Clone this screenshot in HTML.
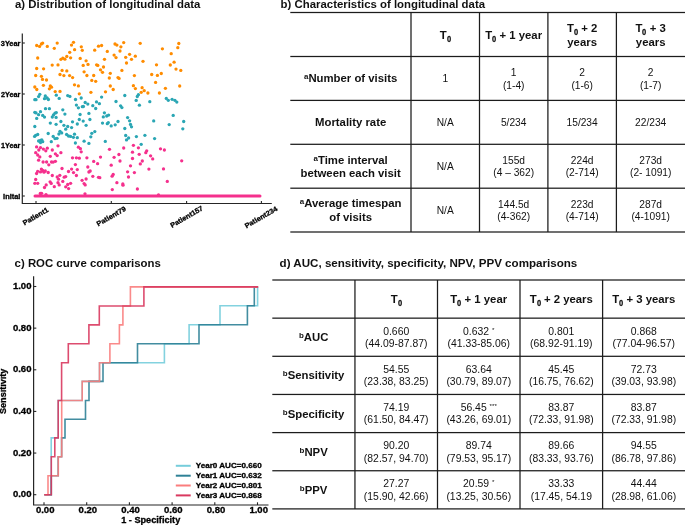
<!DOCTYPE html><html><head><meta charset="utf-8"><title>figure</title><style>
html,body{margin:0;padding:0;background:#fff;}
body{width:685px;height:525px;position:relative;overflow:hidden;font-family:"Liberation Sans",sans-serif;color:#111;}
.ttl{position:absolute;font-weight:bold;font-size:11.4px;line-height:12px;white-space:nowrap;color:#111;}
.ln{position:absolute;text-align:center;white-space:nowrap;line-height:14px;height:14px;}
.bh{font-weight:bold;font-size:11.35px;line-height:13.1px;}
.bh>span{position:relative;top:1.0px;}
.hd{line-height:13.8px;}
.bd>span{position:relative;top:1.7px;}
.dd>span{position:relative;top:1.0px;}
.bd{font-size:10px;line-height:12.8px;}
.dd{font-size:10.4px;line-height:12.3px;}
sub.s{font-size:0.78em;vertical-align:-0.3em;line-height:0;}
.z{display:inline-block;transform:scaleX(0.85);transform-origin:0 0;margin-right:-0.8px;-webkit-text-stroke:0.3px #111;}
sup.s{font-size:0.6em;vertical-align:0.45em;line-height:0;font-weight:normal;}
sup.a{font-size:0.7em;vertical-align:0.4em;line-height:0;}
svg text{font-family:"Liberation Sans",sans-serif;font-weight:bold;fill:#000;stroke:#000;stroke-width:0.3px;}
.wc{will-change:transform;}
</style></head><body>
<div class="wc" style="position:absolute;left:0;top:0;width:685px;height:525px;">
<div class="ttl" style="left:15px;top:-2px;">a) Distribution of longitudinal data</div>
<div class="ttl" style="left:280.6px;top:-2px;">b) Characteristics of longitudinal data</div>
<div class="ttl" style="left:14.6px;top:256.8px;">c) ROC curve comparisons</div>
<div class="ttl" style="left:279.6px;top:256.5px;font-size:11.6px;">d) AUC, sensitivity, specificity, NPV, PPV comparisons</div>
</div>
<svg class="wc" width="685" height="525" style="position:absolute;left:0;top:0">
<g fill="#ff8c00"><circle cx="36.7" cy="45.5" r="1.65"/><circle cx="39.6" cy="46.4" r="1.65"/><circle cx="41.4" cy="44.0" r="1.65"/><circle cx="42.7" cy="43.1" r="1.65"/><circle cx="47.3" cy="46.4" r="1.65"/><circle cx="54.3" cy="48.3" r="1.65"/><circle cx="57.2" cy="43.1" r="1.65"/><circle cx="73.5" cy="42.3" r="1.65"/><circle cx="71.5" cy="45.1" r="1.65"/><circle cx="74.6" cy="49.7" r="1.65"/><circle cx="81.3" cy="46.8" r="1.65"/><circle cx="82.3" cy="50.3" r="1.65"/><circle cx="69.7" cy="52.3" r="1.65"/><circle cx="37.7" cy="58.0" r="1.65"/><circle cx="60.9" cy="59.3" r="1.65"/><circle cx="62.8" cy="58.2" r="1.65"/><circle cx="64.9" cy="59.2" r="1.65"/><circle cx="66.8" cy="56.4" r="1.65"/><circle cx="70.6" cy="57.8" r="1.65"/><circle cx="80.2" cy="58.4" r="1.65"/><circle cx="86.1" cy="60.8" r="1.65"/><circle cx="88.0" cy="64.4" r="1.65"/><circle cx="83.2" cy="65.4" r="1.65"/><circle cx="52.2" cy="65.1" r="1.65"/><circle cx="58.0" cy="64.9" r="1.65"/><circle cx="36.7" cy="68.5" r="1.65"/><circle cx="43.6" cy="68.8" r="1.65"/><circle cx="62.1" cy="70.4" r="1.65"/><circle cx="66.8" cy="70.9" r="1.65"/><circle cx="84.1" cy="71.8" r="1.65"/><circle cx="98.5" cy="46.2" r="1.65"/><circle cx="101.6" cy="45.5" r="1.65"/><circle cx="94.7" cy="50.2" r="1.65"/><circle cx="107.3" cy="51.4" r="1.65"/><circle cx="115.0" cy="44.0" r="1.65"/><circle cx="116.9" cy="45.1" r="1.65"/><circle cx="123.7" cy="42.6" r="1.65"/><circle cx="120.9" cy="46.8" r="1.65"/><circle cx="120.0" cy="51.0" r="1.65"/><circle cx="140.2" cy="43.3" r="1.65"/><circle cx="114.1" cy="55.1" r="1.65"/><circle cx="116.0" cy="57.6" r="1.65"/><circle cx="129.6" cy="54.3" r="1.65"/><circle cx="125.7" cy="57.3" r="1.65"/><circle cx="135.3" cy="56.2" r="1.65"/><circle cx="131.5" cy="59.3" r="1.65"/><circle cx="143.0" cy="61.3" r="1.65"/><circle cx="126.5" cy="63.0" r="1.65"/><circle cx="104.5" cy="59.3" r="1.65"/><circle cx="96.6" cy="64.8" r="1.65"/><circle cx="97.8" cy="65.4" r="1.65"/><circle cx="103.5" cy="67.0" r="1.65"/><circle cx="100.5" cy="69.8" r="1.65"/><circle cx="102.5" cy="72.3" r="1.65"/><circle cx="110.3" cy="73.3" r="1.65"/><circle cx="121.9" cy="70.4" r="1.65"/><circle cx="178.8" cy="43.5" r="1.65"/><circle cx="177.8" cy="47.7" r="1.65"/><circle cx="162.4" cy="48.8" r="1.65"/><circle cx="171.2" cy="53.7" r="1.65"/><circle cx="174.1" cy="62.2" r="1.65"/><circle cx="170.3" cy="65.0" r="1.65"/><circle cx="156.5" cy="64.8" r="1.65"/><circle cx="176.0" cy="69.1" r="1.65"/><circle cx="180.8" cy="70.4" r="1.65"/><circle cx="161.3" cy="73.5" r="1.65"/><circle cx="35.7" cy="75.5" r="1.65"/><circle cx="41.4" cy="76.3" r="1.65"/><circle cx="42.5" cy="79.4" r="1.65"/><circle cx="46.5" cy="80.0" r="1.65"/><circle cx="60.0" cy="74.5" r="1.65"/><circle cx="63.9" cy="75.6" r="1.65"/><circle cx="69.6" cy="75.6" r="1.65"/><circle cx="72.6" cy="77.6" r="1.65"/><circle cx="86.9" cy="75.5" r="1.65"/><circle cx="43.4" cy="85.3" r="1.65"/><circle cx="34.8" cy="87.0" r="1.65"/><circle cx="36.8" cy="89.5" r="1.65"/><circle cx="50.3" cy="86.0" r="1.65"/><circle cx="51.5" cy="87.2" r="1.65"/><circle cx="49.4" cy="88.8" r="1.65"/><circle cx="74.5" cy="84.8" r="1.65"/><circle cx="78.4" cy="85.9" r="1.65"/><circle cx="55.2" cy="91.6" r="1.65"/><circle cx="60.0" cy="91.4" r="1.65"/><circle cx="79.3" cy="93.8" r="1.65"/><circle cx="93.7" cy="75.5" r="1.65"/><circle cx="91.8" cy="80.4" r="1.65"/><circle cx="95.7" cy="81.3" r="1.65"/><circle cx="109.3" cy="78.0" r="1.65"/><circle cx="118.0" cy="77.6" r="1.65"/><circle cx="119.1" cy="78.4" r="1.65"/><circle cx="134.4" cy="75.6" r="1.65"/><circle cx="110.3" cy="86.0" r="1.65"/><circle cx="113.2" cy="89.5" r="1.65"/><circle cx="105.5" cy="91.8" r="1.65"/><circle cx="90.9" cy="92.3" r="1.65"/><circle cx="133.4" cy="85.7" r="1.65"/><circle cx="135.4" cy="88.6" r="1.65"/><circle cx="142.1" cy="87.7" r="1.65"/><circle cx="144.2" cy="90.7" r="1.65"/><circle cx="141.2" cy="92.3" r="1.65"/><circle cx="151.7" cy="74.5" r="1.65"/><circle cx="157.4" cy="75.4" r="1.65"/><circle cx="155.6" cy="82.4" r="1.65"/><circle cx="165.4" cy="88.3" r="1.65"/><circle cx="179.7" cy="86.0" r="1.65"/><circle cx="147.9" cy="93.0" r="1.65"/><circle cx="159.4" cy="93.0" r="1.65"/></g>
<g fill="#2aa6b4"><circle cx="39.8" cy="94.3" r="1.65"/><circle cx="38.6" cy="96.6" r="1.65"/><circle cx="34.8" cy="99.7" r="1.65"/><circle cx="36.0" cy="99.7" r="1.65"/><circle cx="45.3" cy="96.0" r="1.65"/><circle cx="44.5" cy="98.7" r="1.65"/><circle cx="47.1" cy="98.0" r="1.65"/><circle cx="48.4" cy="99.5" r="1.65"/><circle cx="56.3" cy="95.2" r="1.65"/><circle cx="59.2" cy="98.4" r="1.65"/><circle cx="67.7" cy="95.6" r="1.65"/><circle cx="69.9" cy="96.4" r="1.65"/><circle cx="75.5" cy="99.5" r="1.65"/><circle cx="81.2" cy="98.0" r="1.65"/><circle cx="85.2" cy="102.5" r="1.65"/><circle cx="87.8" cy="104.1" r="1.65"/><circle cx="76.4" cy="105.1" r="1.65"/><circle cx="78.4" cy="107.8" r="1.65"/><circle cx="82.3" cy="106.7" r="1.65"/><circle cx="83.4" cy="106.5" r="1.65"/><circle cx="45.5" cy="108.7" r="1.65"/><circle cx="49.4" cy="108.7" r="1.65"/><circle cx="62.8" cy="109.8" r="1.65"/><circle cx="101.6" cy="97.1" r="1.65"/><circle cx="96.5" cy="101.9" r="1.65"/><circle cx="99.4" cy="103.7" r="1.65"/><circle cx="92.8" cy="105.7" r="1.65"/><circle cx="95.7" cy="108.5" r="1.65"/><circle cx="124.8" cy="95.5" r="1.65"/><circle cx="116.0" cy="101.5" r="1.65"/><circle cx="120.6" cy="105.8" r="1.65"/><circle cx="121.9" cy="107.6" r="1.65"/><circle cx="138.4" cy="94.7" r="1.65"/><circle cx="137.3" cy="96.5" r="1.65"/><circle cx="136.2" cy="100.4" r="1.65"/><circle cx="139.4" cy="105.2" r="1.65"/><circle cx="149.8" cy="101.7" r="1.65"/><circle cx="166.3" cy="98.4" r="1.65"/><circle cx="168.3" cy="100.3" r="1.65"/><circle cx="172.1" cy="99.3" r="1.65"/><circle cx="174.9" cy="100.3" r="1.65"/><circle cx="176.8" cy="102.1" r="1.65"/><circle cx="34.8" cy="112.3" r="1.65"/><circle cx="36.0" cy="112.9" r="1.65"/><circle cx="40.5" cy="111.7" r="1.65"/><circle cx="38.6" cy="114.7" r="1.65"/><circle cx="42.7" cy="115.4" r="1.65"/><circle cx="44.5" cy="117.1" r="1.65"/><circle cx="36.7" cy="118.4" r="1.65"/><circle cx="52.3" cy="117.0" r="1.65"/><circle cx="53.5" cy="114.9" r="1.65"/><circle cx="55.0" cy="113.2" r="1.65"/><circle cx="56.3" cy="112.6" r="1.65"/><circle cx="56.1" cy="117.4" r="1.65"/><circle cx="64.9" cy="114.1" r="1.65"/><circle cx="80.1" cy="114.5" r="1.65"/><circle cx="79.3" cy="119.5" r="1.65"/><circle cx="83.2" cy="121.1" r="1.65"/><circle cx="50.3" cy="123.1" r="1.65"/><circle cx="56.1" cy="124.3" r="1.65"/><circle cx="60.9" cy="121.5" r="1.65"/><circle cx="72.5" cy="121.8" r="1.65"/><circle cx="77.3" cy="124.0" r="1.65"/><circle cx="86.1" cy="125.3" r="1.65"/><circle cx="34.8" cy="126.5" r="1.65"/><circle cx="63.9" cy="125.3" r="1.65"/><circle cx="67.7" cy="126.5" r="1.65"/><circle cx="71.6" cy="127.6" r="1.65"/><circle cx="65.7" cy="129.2" r="1.65"/><circle cx="60.0" cy="131.3" r="1.65"/><circle cx="61.7" cy="132.9" r="1.65"/><circle cx="58.9" cy="134.0" r="1.65"/><circle cx="48.2" cy="133.5" r="1.65"/><circle cx="37.7" cy="134.5" r="1.65"/><circle cx="35.7" cy="135.3" r="1.65"/><circle cx="34.6" cy="136.4" r="1.65"/><circle cx="53.2" cy="136.4" r="1.65"/><circle cx="55.0" cy="138.6" r="1.65"/><circle cx="57.0" cy="138.3" r="1.65"/><circle cx="66.6" cy="134.5" r="1.65"/><circle cx="68.5" cy="136.0" r="1.65"/><circle cx="70.6" cy="136.4" r="1.65"/><circle cx="73.4" cy="137.3" r="1.65"/><circle cx="74.5" cy="134.2" r="1.65"/><circle cx="77.3" cy="137.7" r="1.65"/><circle cx="38.6" cy="141.0" r="1.65"/><circle cx="40.5" cy="140.3" r="1.65"/><circle cx="41.8" cy="139.9" r="1.65"/><circle cx="42.7" cy="141.7" r="1.65"/><circle cx="40.5" cy="142.5" r="1.65"/><circle cx="51.3" cy="141.7" r="1.65"/><circle cx="75.4" cy="143.0" r="1.65"/><circle cx="84.1" cy="141.2" r="1.65"/><circle cx="88.9" cy="113.4" r="1.65"/><circle cx="89.9" cy="119.5" r="1.65"/><circle cx="104.4" cy="112.8" r="1.65"/><circle cx="103.3" cy="116.9" r="1.65"/><circle cx="106.7" cy="116.0" r="1.65"/><circle cx="108.6" cy="115.1" r="1.65"/><circle cx="102.5" cy="123.1" r="1.65"/><circle cx="107.3" cy="123.7" r="1.65"/><circle cx="108.3" cy="122.6" r="1.65"/><circle cx="111.2" cy="125.9" r="1.65"/><circle cx="115.2" cy="124.8" r="1.65"/><circle cx="118.0" cy="121.5" r="1.65"/><circle cx="127.6" cy="117.6" r="1.65"/><circle cx="129.6" cy="120.8" r="1.65"/><circle cx="130.5" cy="124.4" r="1.65"/><circle cx="131.5" cy="126.8" r="1.65"/><circle cx="124.8" cy="128.5" r="1.65"/><circle cx="94.8" cy="131.6" r="1.65"/><circle cx="91.8" cy="133.3" r="1.65"/><circle cx="90.8" cy="136.8" r="1.65"/><circle cx="88.9" cy="143.4" r="1.65"/><circle cx="105.3" cy="141.4" r="1.65"/><circle cx="125.7" cy="135.5" r="1.65"/><circle cx="128.6" cy="138.0" r="1.65"/><circle cx="126.5" cy="139.9" r="1.65"/><circle cx="136.4" cy="136.6" r="1.65"/><circle cx="144.9" cy="135.3" r="1.65"/><circle cx="141.2" cy="144.3" r="1.65"/><circle cx="173.2" cy="115.4" r="1.65"/><circle cx="153.7" cy="120.9" r="1.65"/><circle cx="169.2" cy="124.6" r="1.65"/><circle cx="183.7" cy="121.5" r="1.65"/><circle cx="182.8" cy="128.8" r="1.65"/><circle cx="154.6" cy="138.6" r="1.65"/></g>
<g fill="#f5308d"><circle cx="58.0" cy="145.8" r="1.65"/><circle cx="36.6" cy="146.9" r="1.65"/><circle cx="40.5" cy="147.6" r="1.65"/><circle cx="43.4" cy="149.1" r="1.65"/><circle cx="47.3" cy="148.2" r="1.65"/><circle cx="52.3" cy="150.0" r="1.65"/><circle cx="78.4" cy="147.2" r="1.65"/><circle cx="80.4" cy="148.7" r="1.65"/><circle cx="38.8" cy="150.0" r="1.65"/><circle cx="133.4" cy="145.3" r="1.65"/><circle cx="123.7" cy="148.0" r="1.65"/><circle cx="138.4" cy="147.8" r="1.65"/><circle cx="109.5" cy="149.3" r="1.65"/><circle cx="160.5" cy="148.8" r="1.65"/><circle cx="164.4" cy="150.0" r="1.65"/><circle cx="45.8" cy="150.8" r="1.65"/><circle cx="81.2" cy="151.8" r="1.65"/><circle cx="35.7" cy="152.7" r="1.65"/><circle cx="37.7" cy="155.0" r="1.65"/><circle cx="39.8" cy="156.9" r="1.65"/><circle cx="38.6" cy="160.2" r="1.65"/><circle cx="50.3" cy="156.3" r="1.65"/><circle cx="55.4" cy="153.8" r="1.65"/><circle cx="57.2" cy="155.6" r="1.65"/><circle cx="60.9" cy="152.7" r="1.65"/><circle cx="72.5" cy="157.8" r="1.65"/><circle cx="76.4" cy="157.8" r="1.65"/><circle cx="79.3" cy="158.2" r="1.65"/><circle cx="86.9" cy="157.8" r="1.65"/><circle cx="43.1" cy="162.0" r="1.65"/><circle cx="46.6" cy="162.0" r="1.65"/><circle cx="48.8" cy="164.8" r="1.65"/><circle cx="51.5" cy="162.0" r="1.65"/><circle cx="53.2" cy="162.1" r="1.65"/><circle cx="55.4" cy="161.3" r="1.65"/><circle cx="75.4" cy="164.6" r="1.65"/><circle cx="87.8" cy="167.0" r="1.65"/><circle cx="62.0" cy="168.5" r="1.65"/><circle cx="71.6" cy="169.1" r="1.65"/><circle cx="77.3" cy="169.6" r="1.65"/><circle cx="68.5" cy="171.5" r="1.65"/><circle cx="73.5" cy="172.6" r="1.65"/><circle cx="76.4" cy="175.5" r="1.65"/><circle cx="88.9" cy="172.0" r="1.65"/><circle cx="37.7" cy="171.3" r="1.65"/><circle cx="36.6" cy="173.5" r="1.65"/><circle cx="41.4" cy="169.1" r="1.65"/><circle cx="42.7" cy="170.5" r="1.65"/><circle cx="44.0" cy="172.2" r="1.65"/><circle cx="45.3" cy="170.9" r="1.65"/><circle cx="40.5" cy="171.9" r="1.65"/><circle cx="48.2" cy="172.5" r="1.65"/><circle cx="52.3" cy="175.5" r="1.65"/><circle cx="57.2" cy="177.0" r="1.65"/><circle cx="59.8" cy="175.3" r="1.65"/><circle cx="58.5" cy="179.2" r="1.65"/><circle cx="64.2" cy="177.2" r="1.65"/><circle cx="65.7" cy="176.6" r="1.65"/><circle cx="62.8" cy="181.4" r="1.65"/><circle cx="35.7" cy="179.5" r="1.65"/><circle cx="34.8" cy="183.3" r="1.65"/><circle cx="37.7" cy="183.3" r="1.65"/><circle cx="50.1" cy="181.8" r="1.65"/><circle cx="51.2" cy="183.4" r="1.65"/><circle cx="46.2" cy="184.9" r="1.65"/><circle cx="44.5" cy="187.5" r="1.65"/><circle cx="54.3" cy="186.7" r="1.65"/><circle cx="58.0" cy="182.7" r="1.65"/><circle cx="59.2" cy="184.9" r="1.65"/><circle cx="67.7" cy="184.5" r="1.65"/><circle cx="70.6" cy="183.3" r="1.65"/><circle cx="65.7" cy="186.8" r="1.65"/><circle cx="68.6" cy="188.6" r="1.65"/><circle cx="82.1" cy="180.3" r="1.65"/><circle cx="86.1" cy="179.0" r="1.65"/><circle cx="84.1" cy="183.6" r="1.65"/><circle cx="85.2" cy="184.9" r="1.65"/><circle cx="132.5" cy="152.2" r="1.65"/><circle cx="139.2" cy="154.3" r="1.65"/><circle cx="145.8" cy="152.7" r="1.65"/><circle cx="146.7" cy="150.8" r="1.65"/><circle cx="100.5" cy="157.1" r="1.65"/><circle cx="114.1" cy="157.3" r="1.65"/><circle cx="118.9" cy="154.5" r="1.65"/><circle cx="120.0" cy="161.0" r="1.65"/><circle cx="132.5" cy="158.5" r="1.65"/><circle cx="142.3" cy="161.0" r="1.65"/><circle cx="140.3" cy="163.9" r="1.65"/><circle cx="93.7" cy="161.4" r="1.65"/><circle cx="97.6" cy="163.7" r="1.65"/><circle cx="90.2" cy="171.0" r="1.65"/><circle cx="111.2" cy="165.2" r="1.65"/><circle cx="130.5" cy="165.8" r="1.65"/><circle cx="127.6" cy="171.8" r="1.65"/><circle cx="134.4" cy="172.6" r="1.65"/><circle cx="128.5" cy="177.0" r="1.65"/><circle cx="113.2" cy="174.4" r="1.65"/><circle cx="112.1" cy="176.2" r="1.65"/><circle cx="92.8" cy="176.3" r="1.65"/><circle cx="98.5" cy="177.3" r="1.65"/><circle cx="99.8" cy="177.7" r="1.65"/><circle cx="116.9" cy="182.7" r="1.65"/><circle cx="122.8" cy="184.0" r="1.65"/><circle cx="123.0" cy="185.2" r="1.65"/><circle cx="112.3" cy="189.6" r="1.65"/><circle cx="137.4" cy="189.0" r="1.65"/><circle cx="150.6" cy="155.8" r="1.65"/><circle cx="152.7" cy="158.9" r="1.65"/><circle cx="181.7" cy="160.8" r="1.65"/><circle cx="148.9" cy="169.1" r="1.65"/><circle cx="163.5" cy="168.9" r="1.65"/><circle cx="167.3" cy="181.4" r="1.65"/><circle cx="40.3" cy="193.5" r="1.65"/><circle cx="41.6" cy="193.3" r="1.65"/><circle cx="46.0" cy="194.6" r="1.65"/><circle cx="85.0" cy="193.8" r="1.65"/><circle cx="158.5" cy="194.9" r="1.65"/></g>
<line x1="35" y1="195.9" x2="260.0" y2="195.9" stroke="#f5308d" stroke-width="3.0" stroke-linecap="round"/>
<path d="M22.3 33.4V203.5H271.8" fill="none" stroke="#262626" stroke-width="1.2"/>
<line x1="22.3" y1="43" x2="24.8" y2="43" stroke="#262626" stroke-width="1.1"/>
<line x1="22.3" y1="94" x2="24.8" y2="94" stroke="#262626" stroke-width="1.1"/>
<line x1="22.3" y1="145" x2="24.8" y2="145" stroke="#262626" stroke-width="1.1"/>
<line x1="22.3" y1="196" x2="24.8" y2="196" stroke="#262626" stroke-width="1.1"/>
<line x1="36.0" y1="203.5" x2="36.0" y2="200.9" stroke="#262626" stroke-width="1.1"/>
<line x1="111.3" y1="203.5" x2="111.3" y2="200.9" stroke="#262626" stroke-width="1.1"/>
<line x1="186.6" y1="203.5" x2="186.6" y2="200.9" stroke="#262626" stroke-width="1.1"/>
<line x1="261.4" y1="203.5" x2="261.4" y2="200.9" stroke="#262626" stroke-width="1.1"/>
<text x="20.4" y="45.8" font-size="7.0" text-anchor="end" textLength="19.6" lengthAdjust="spacingAndGlyphs" >3Year</text>
<text x="20.4" y="96.8" font-size="7.0" text-anchor="end" textLength="19.3" lengthAdjust="spacingAndGlyphs" >2Year</text>
<text x="20.4" y="147.8" font-size="7.0" text-anchor="end" textLength="19.3" lengthAdjust="spacingAndGlyphs" >1Year</text>
<text x="20.4" y="198.8" font-size="7.0" text-anchor="end" textLength="17.3" lengthAdjust="spacingAndGlyphs" >Inital</text>
<text transform="translate(35.6,216.3) rotate(-30)" x="0" y="2.4" font-size="7.0" text-anchor="middle" textLength="28.3" lengthAdjust="spacingAndGlyphs">Patient1</text>
<text transform="translate(111.2,216.3) rotate(-30)" x="0" y="2.4" font-size="7.0" text-anchor="middle" textLength="32.5" lengthAdjust="spacingAndGlyphs">Patient79</text>
<text transform="translate(186.6,216.8) rotate(-30)" x="0" y="2.4" font-size="7.0" text-anchor="middle" textLength="36.5" lengthAdjust="spacingAndGlyphs">Patient157</text>
<text transform="translate(261.0,217.2) rotate(-30)" x="0" y="2.4" font-size="7.0" text-anchor="middle" textLength="36.5" lengthAdjust="spacingAndGlyphs">Patient234</text>
<path d="M33.6 276.2V505H268.5" fill="none" stroke="#262626" stroke-width="1.2"/>
<line x1="33.6" y1="494.70" x2="36.3" y2="494.70" stroke="#262626" stroke-width="1.1"/>
<text x="31.5" y="497.35" font-size="8.7" text-anchor="end" textLength="18.6" lengthAdjust="spacingAndGlyphs" >0.00</text>
<line x1="44.00" y1="505" x2="44.00" y2="502.3" stroke="#262626" stroke-width="1.1"/>
<text x="45.20" y="512.8" font-size="8.7" text-anchor="middle" textLength="18.6" lengthAdjust="spacingAndGlyphs" >0.00</text>
<line x1="33.6" y1="453.06" x2="36.3" y2="453.06" stroke="#262626" stroke-width="1.1"/>
<text x="31.5" y="455.71" font-size="8.7" text-anchor="end" textLength="18.6" lengthAdjust="spacingAndGlyphs" >0.20</text>
<line x1="86.70" y1="505" x2="86.70" y2="502.3" stroke="#262626" stroke-width="1.1"/>
<text x="87.90" y="512.8" font-size="8.7" text-anchor="middle" textLength="18.6" lengthAdjust="spacingAndGlyphs" >0.20</text>
<line x1="33.6" y1="411.42" x2="36.3" y2="411.42" stroke="#262626" stroke-width="1.1"/>
<text x="31.5" y="414.07" font-size="8.7" text-anchor="end" textLength="18.6" lengthAdjust="spacingAndGlyphs" >0.40</text>
<line x1="129.40" y1="505" x2="129.40" y2="502.3" stroke="#262626" stroke-width="1.1"/>
<text x="130.60" y="512.8" font-size="8.7" text-anchor="middle" textLength="18.6" lengthAdjust="spacingAndGlyphs" >0.40</text>
<line x1="33.6" y1="369.78" x2="36.3" y2="369.78" stroke="#262626" stroke-width="1.1"/>
<text x="31.5" y="372.43" font-size="8.7" text-anchor="end" textLength="18.6" lengthAdjust="spacingAndGlyphs" >0.60</text>
<line x1="172.10" y1="505" x2="172.10" y2="502.3" stroke="#262626" stroke-width="1.1"/>
<text x="173.30" y="512.8" font-size="8.7" text-anchor="middle" textLength="18.6" lengthAdjust="spacingAndGlyphs" >0.60</text>
<line x1="33.6" y1="328.14" x2="36.3" y2="328.14" stroke="#262626" stroke-width="1.1"/>
<text x="31.5" y="330.79" font-size="8.7" text-anchor="end" textLength="18.6" lengthAdjust="spacingAndGlyphs" >0.80</text>
<line x1="214.80" y1="505" x2="214.80" y2="502.3" stroke="#262626" stroke-width="1.1"/>
<text x="216.00" y="512.8" font-size="8.7" text-anchor="middle" textLength="18.6" lengthAdjust="spacingAndGlyphs" >0.80</text>
<line x1="33.6" y1="286.50" x2="36.3" y2="286.50" stroke="#262626" stroke-width="1.1"/>
<text x="31.5" y="289.15" font-size="8.7" text-anchor="end" textLength="18.6" lengthAdjust="spacingAndGlyphs" >1.00</text>
<line x1="257.50" y1="505" x2="257.50" y2="502.3" stroke="#262626" stroke-width="1.1"/>
<text x="258.70" y="512.8" font-size="8.7" text-anchor="middle" textLength="18.6" lengthAdjust="spacingAndGlyphs" >1.00</text>
<text x="150.7" y="522.7" font-size="8.5" text-anchor="middle" textLength="59.1" lengthAdjust="spacingAndGlyphs" >1 - Specificity</text>
<text transform="translate(6.0,391.3) rotate(-90)" x="0" y="0" font-size="8.5" text-anchor="middle" textLength="45.4" lengthAdjust="spacingAndGlyphs">Sensitivity</text>
<path d="M44.3,494.7 L51.2,494.7 L51.2,437.9 L58.2,437.9 L58.2,400.5 L82.2,400.5 L82.2,381.4 L99.5,381.4 L99.5,362.8 L164.4,362.8 L164.4,343.7 L189.1,343.7 L189.1,324.7 L220,324.7 L220,305.8 L257.6,305.8 L257.6,286.9" fill="none" stroke="#76cddb" stroke-width="1.6" stroke-opacity="0.9"/>
<path d="M44.3,494.7 L51.3,494.7 L51.3,475.7 L58.2,475.7 L58.2,456.8 L61.6,456.8 L61.6,437.9 L65.0,437.9 L65.0,419.2 L85.5,419.2 L85.5,400.5 L89.0,400.5 L89.0,381.4 L103.0,381.4 L103.0,362.8 L137.5,362.8 L137.5,343.7 L199.0,343.7 L199.0,324.7 L247.4,324.7 L247.4,305.8 L254.3,305.8 L254.3,286.9 L258,286.9" fill="none" stroke="#2e8196" stroke-width="1.6" stroke-opacity="0.9"/>
<path d="M44.3,494.7 L48.0,494.7 L48.0,475.7 L58.3,475.7 L58.3,456.8 L61.7,456.8 L61.7,400.5 L82.2,400.5 L82.2,381.4 L99.5,381.4 L99.5,362.8 L109.9,362.8 L109.9,343.7 L119.4,343.7 L119.4,324.9 L122.9,324.9 L122.9,306.0 L130.4,306.0 L130.4,286.9 L258,286.9" fill="none" stroke="#fa7d7d" stroke-width="1.6" stroke-opacity="0.9"/>
<path d="M44.3,494.7 L51.3,494.7 L51.3,456.8 L54.8,456.8 L54.8,437.9 L58.2,437.9 L58.2,400.5 L61.6,400.5 L61.6,362.8 L68.3,362.8 L68.3,343.7 L88.9,343.7 L88.9,324.9 L99.3,324.9 L99.3,306.0 L143.9,306.0 L143.9,286.9 L258.3,286.9" fill="none" stroke="#d9395f" stroke-width="1.6" stroke-opacity="0.9"/>
<line x1="175.8" y1="465.8" x2="190.7" y2="465.8" stroke="#76cddb" stroke-width="2"/>
<text x="195.8" y="468.0" font-size="7.2" text-anchor="start" textLength="65.9" lengthAdjust="spacingAndGlyphs" >Year0 AUC=0.660</text>
<line x1="175.8" y1="475.7" x2="190.7" y2="475.7" stroke="#2e8196" stroke-width="2"/>
<text x="195.8" y="477.9" font-size="7.2" text-anchor="start" textLength="65.9" lengthAdjust="spacingAndGlyphs" >Year1 AUC=0.632</text>
<line x1="175.8" y1="485.5" x2="190.7" y2="485.5" stroke="#fa7d7d" stroke-width="2"/>
<text x="195.8" y="487.7" font-size="7.2" text-anchor="start" textLength="65.9" lengthAdjust="spacingAndGlyphs" >Year2 AUC=0.801</text>
<line x1="175.8" y1="495.4" x2="190.7" y2="495.4" stroke="#d9395f" stroke-width="2"/>
<text x="195.8" y="497.6" font-size="7.2" text-anchor="start" textLength="65.9" lengthAdjust="spacingAndGlyphs" >Year3 AUC=0.868</text>
<rect x="290.3" y="11.875" width="394.700" height="1.25" fill="#1c1c1c"/>
<rect x="290.3" y="55.875" width="394.700" height="1.25" fill="#1c1c1c"/>
<rect x="290.3" y="99.775" width="394.700" height="1.25" fill="#1c1c1c"/>
<rect x="290.3" y="143.675" width="394.700" height="1.25" fill="#1c1c1c"/>
<rect x="290.3" y="187.575" width="394.700" height="1.25" fill="#1c1c1c"/>
<rect x="290.3" y="231.375" width="394.700" height="1.25" fill="#1c1c1c"/>
<rect x="410.375" y="12.5" width="1.25" height="219.500" fill="#1c1c1c"/>
<rect x="478.875" y="12.5" width="1.25" height="219.500" fill="#1c1c1c"/>
<rect x="547.275" y="12.5" width="1.25" height="219.500" fill="#1c1c1c"/>
<rect x="615.775" y="12.5" width="1.25" height="219.500" fill="#1c1c1c"/>
<rect x="272.3" y="279.375" width="412.700" height="1.25" fill="#1c1c1c"/>
<rect x="272.3" y="317.525" width="412.700" height="1.25" fill="#1c1c1c"/>
<rect x="272.3" y="355.675" width="412.700" height="1.25" fill="#1c1c1c"/>
<rect x="272.3" y="393.825" width="412.700" height="1.25" fill="#1c1c1c"/>
<rect x="272.3" y="431.975" width="412.700" height="1.25" fill="#1c1c1c"/>
<rect x="272.3" y="470.125" width="412.700" height="1.25" fill="#1c1c1c"/>
<rect x="272.3" y="508.275" width="412.700" height="1.25" fill="#1c1c1c"/>
<rect x="354.325" y="280.0" width="1.25" height="228.900" fill="#1c1c1c"/>
<rect x="436.875" y="280.0" width="1.25" height="228.900" fill="#1c1c1c"/>
<rect x="519.375" y="280.0" width="1.25" height="228.900" fill="#1c1c1c"/>
<rect x="601.975" y="280.0" width="1.25" height="228.900" fill="#1c1c1c"/>
</svg>
<div class="wc" style="position:absolute;left:0;top:0;width:685px;height:525px;">
<div class="ln" style="left:290.30px;width:120.70px;top:28px;font-size:11.35px;font-weight:bold;"></div>
<div class="ln" style="left:411.00px;width:68.50px;top:28px;font-size:11.35px;font-weight:bold;">T<sub class="s"><span class="z">0</span></sub></div>
<div class="ln" style="left:479.50px;width:68.40px;top:28px;font-size:11.35px;font-weight:bold;">T<sub class="s"><span class="z">0</span></sub> + 1 year</div>
<div class="ln" style="left:547.90px;width:68.50px;top:21px;font-size:11.35px;font-weight:bold;">T<sub class="s"><span class="z">0</span></sub> + 2</div>
<div class="ln" style="left:547.90px;width:68.50px;top:35px;font-size:11.35px;font-weight:bold;">years</div>
<div class="ln" style="left:616.40px;width:68.60px;top:21px;font-size:11.35px;font-weight:bold;">T<sub class="s"><span class="z">0</span></sub> + 3</div>
<div class="ln" style="left:616.40px;width:68.60px;top:35px;font-size:11.35px;font-weight:bold;">years</div>
<div class="ln" style="left:290.30px;width:120.70px;top:71px;font-size:11.35px;font-weight:bold;"><sup class="a">a</sup>Number of visits</div>
<div class="ln" style="left:411.00px;width:68.50px;top:72px;font-size:10.2px;font-weight:normal;">1</div>
<div class="ln" style="left:479.50px;width:68.40px;top:66px;font-size:10.2px;font-weight:normal;">1</div>
<div class="ln" style="left:479.50px;width:68.40px;top:79px;font-size:10.2px;font-weight:normal;">(1-4)</div>
<div class="ln" style="left:547.90px;width:68.50px;top:66px;font-size:10.2px;font-weight:normal;">2</div>
<div class="ln" style="left:547.90px;width:68.50px;top:79px;font-size:10.2px;font-weight:normal;">(1-6)</div>
<div class="ln" style="left:616.40px;width:68.60px;top:66px;font-size:10.2px;font-weight:normal;">2</div>
<div class="ln" style="left:616.40px;width:68.60px;top:79px;font-size:10.2px;font-weight:normal;">(1-7)</div>
<div class="ln" style="left:290.30px;width:120.70px;top:115px;font-size:11.35px;font-weight:bold;">Mortality rate</div>
<div class="ln" style="left:411.00px;width:68.50px;top:116px;font-size:10.2px;font-weight:normal;">N/A</div>
<div class="ln" style="left:479.50px;width:68.40px;top:116px;font-size:10.2px;font-weight:normal;">5/234</div>
<div class="ln" style="left:547.90px;width:68.50px;top:116px;font-size:10.2px;font-weight:normal;">15/234</div>
<div class="ln" style="left:616.40px;width:68.60px;top:116px;font-size:10.2px;font-weight:normal;">22/234</div>
<div class="ln" style="left:290.30px;width:120.70px;top:153px;font-size:11.35px;font-weight:bold;"><sup class="a">a</sup>Time interval</div>
<div class="ln" style="left:290.30px;width:120.70px;top:166px;font-size:11.35px;font-weight:bold;">between each visit</div>
<div class="ln" style="left:411.00px;width:68.50px;top:160px;font-size:10.2px;font-weight:normal;">N/A</div>
<div class="ln" style="left:479.50px;width:68.40px;top:154px;font-size:10.2px;font-weight:normal;">155d</div>
<div class="ln" style="left:479.50px;width:68.40px;top:166px;font-size:10.2px;font-weight:normal;">(4 – 362)</div>
<div class="ln" style="left:547.90px;width:68.50px;top:154px;font-size:10.2px;font-weight:normal;">224d</div>
<div class="ln" style="left:547.90px;width:68.50px;top:166px;font-size:10.2px;font-weight:normal;">(2-714)</div>
<div class="ln" style="left:616.40px;width:68.60px;top:154px;font-size:10.2px;font-weight:normal;">273d</div>
<div class="ln" style="left:616.40px;width:68.60px;top:166px;font-size:10.2px;font-weight:normal;">(2- 1091)</div>
<div class="ln" style="left:290.30px;width:120.70px;top:196px;font-size:11.35px;font-weight:bold;"><sup class="a">a</sup>Average timespan</div>
<div class="ln" style="left:290.30px;width:120.70px;top:210px;font-size:11.35px;font-weight:bold;">of visits</div>
<div class="ln" style="left:411.00px;width:68.50px;top:204px;font-size:10.2px;font-weight:normal;">N/A</div>
<div class="ln" style="left:479.50px;width:68.40px;top:198px;font-size:10.2px;font-weight:normal;">144.5d</div>
<div class="ln" style="left:479.50px;width:68.40px;top:210px;font-size:10.2px;font-weight:normal;">(4-362)</div>
<div class="ln" style="left:547.90px;width:68.50px;top:198px;font-size:10.2px;font-weight:normal;">223d</div>
<div class="ln" style="left:547.90px;width:68.50px;top:210px;font-size:10.2px;font-weight:normal;">(4-714)</div>
<div class="ln" style="left:616.40px;width:68.60px;top:198px;font-size:10.2px;font-weight:normal;">287d</div>
<div class="ln" style="left:616.40px;width:68.60px;top:210px;font-size:10.2px;font-weight:normal;">(4-1091)</div>
<div class="ln" style="left:272.30px;width:82.65px;top:292px;font-size:11.35px;font-weight:bold;"></div>
<div class="ln" style="left:354.95px;width:82.55px;top:292px;font-size:11.35px;font-weight:bold;">T<sub class="s"><span class="z">0</span></sub></div>
<div class="ln" style="left:437.50px;width:82.50px;top:292px;font-size:11.35px;font-weight:bold;">T<sub class="s"><span class="z">0</span></sub> + 1 year</div>
<div class="ln" style="left:520.00px;width:82.60px;top:292px;font-size:11.35px;font-weight:bold;">T<sub class="s"><span class="z">0</span></sub> + 2 years</div>
<div class="ln" style="left:602.60px;width:82.40px;top:292px;font-size:11.35px;font-weight:bold;">T<sub class="s"><span class="z">0</span></sub> + 3 years</div>
<div class="ln" style="left:272.30px;width:82.65px;top:330px;font-size:11.35px;font-weight:bold;"><sup class="a">b</sup>AUC</div>
<div class="ln" style="left:354.95px;width:82.55px;top:325px;font-size:10.4px;font-weight:normal;">0.660</div>
<div class="ln" style="left:354.95px;width:82.55px;top:337px;font-size:10.4px;font-weight:normal;">(44.09-87.87)</div>
<div class="ln" style="left:437.50px;width:82.50px;top:325px;font-size:10.4px;font-weight:normal;">0.632 <sup class="s">*</sup></div>
<div class="ln" style="left:437.50px;width:82.50px;top:337px;font-size:10.4px;font-weight:normal;">(41.33-85.06)</div>
<div class="ln" style="left:520.00px;width:82.60px;top:325px;font-size:10.4px;font-weight:normal;">0.801</div>
<div class="ln" style="left:520.00px;width:82.60px;top:337px;font-size:10.4px;font-weight:normal;">(68.92-91.19)</div>
<div class="ln" style="left:602.60px;width:82.40px;top:325px;font-size:10.4px;font-weight:normal;">0.868</div>
<div class="ln" style="left:602.60px;width:82.40px;top:337px;font-size:10.4px;font-weight:normal;">(77.04-96.57)</div>
<div class="ln" style="left:272.30px;width:82.65px;top:368px;font-size:11.35px;font-weight:bold;"><sup class="a">b</sup>Sensitivity</div>
<div class="ln" style="left:354.95px;width:82.55px;top:363px;font-size:10.4px;font-weight:normal;">54.55</div>
<div class="ln" style="left:354.95px;width:82.55px;top:375px;font-size:10.4px;font-weight:normal;">(23.38, 83.25)</div>
<div class="ln" style="left:437.50px;width:82.50px;top:363px;font-size:10.4px;font-weight:normal;">63.64</div>
<div class="ln" style="left:437.50px;width:82.50px;top:375px;font-size:10.4px;font-weight:normal;">(30.79, 89.07)</div>
<div class="ln" style="left:520.00px;width:82.60px;top:363px;font-size:10.4px;font-weight:normal;">45.45</div>
<div class="ln" style="left:520.00px;width:82.60px;top:375px;font-size:10.4px;font-weight:normal;">(16.75, 76.62)</div>
<div class="ln" style="left:602.60px;width:82.40px;top:363px;font-size:10.4px;font-weight:normal;">72.73</div>
<div class="ln" style="left:602.60px;width:82.40px;top:375px;font-size:10.4px;font-weight:normal;">(39.03, 93.98)</div>
<div class="ln" style="left:272.30px;width:82.65px;top:407px;font-size:11.35px;font-weight:bold;"><sup class="a">b</sup>Specificity</div>
<div class="ln" style="left:354.95px;width:82.55px;top:401px;font-size:10.4px;font-weight:normal;">74.19</div>
<div class="ln" style="left:354.95px;width:82.55px;top:413px;font-size:10.4px;font-weight:normal;">(61.50, 84.47)</div>
<div class="ln" style="left:437.50px;width:82.50px;top:401px;font-size:10.4px;font-weight:normal;">56.45 <sup class="s">***</sup></div>
<div class="ln" style="left:437.50px;width:82.50px;top:413px;font-size:10.4px;font-weight:normal;">(43.26, 69.01)</div>
<div class="ln" style="left:520.00px;width:82.60px;top:401px;font-size:10.4px;font-weight:normal;">83.87</div>
<div class="ln" style="left:520.00px;width:82.60px;top:413px;font-size:10.4px;font-weight:normal;">(72.33, 91.98)</div>
<div class="ln" style="left:602.60px;width:82.40px;top:401px;font-size:10.4px;font-weight:normal;">83.87</div>
<div class="ln" style="left:602.60px;width:82.40px;top:413px;font-size:10.4px;font-weight:normal;">(72.33, 91.98)</div>
<div class="ln" style="left:272.30px;width:82.65px;top:445px;font-size:11.35px;font-weight:bold;"><sup class="a">b</sup>NPV</div>
<div class="ln" style="left:354.95px;width:82.55px;top:439px;font-size:10.4px;font-weight:normal;">90.20</div>
<div class="ln" style="left:354.95px;width:82.55px;top:452px;font-size:10.4px;font-weight:normal;">(82.57, 94.70)</div>
<div class="ln" style="left:437.50px;width:82.50px;top:439px;font-size:10.4px;font-weight:normal;">89.74</div>
<div class="ln" style="left:437.50px;width:82.50px;top:452px;font-size:10.4px;font-weight:normal;">(79.53, 95.17)</div>
<div class="ln" style="left:520.00px;width:82.60px;top:439px;font-size:10.4px;font-weight:normal;">89.66</div>
<div class="ln" style="left:520.00px;width:82.60px;top:452px;font-size:10.4px;font-weight:normal;">(83.33, 93.76)</div>
<div class="ln" style="left:602.60px;width:82.40px;top:439px;font-size:10.4px;font-weight:normal;">94.55</div>
<div class="ln" style="left:602.60px;width:82.40px;top:452px;font-size:10.4px;font-weight:normal;">(86.78, 97.86)</div>
<div class="ln" style="left:272.30px;width:82.65px;top:483px;font-size:11.35px;font-weight:bold;"><sup class="a">b</sup>PPV</div>
<div class="ln" style="left:354.95px;width:82.55px;top:477px;font-size:10.4px;font-weight:normal;">27.27</div>
<div class="ln" style="left:354.95px;width:82.55px;top:490px;font-size:10.4px;font-weight:normal;">(15.90, 42.66)</div>
<div class="ln" style="left:437.50px;width:82.50px;top:477px;font-size:10.4px;font-weight:normal;">20.59 <sup class="s">*</sup></div>
<div class="ln" style="left:437.50px;width:82.50px;top:490px;font-size:10.4px;font-weight:normal;">(13.25, 30.56)</div>
<div class="ln" style="left:520.00px;width:82.60px;top:477px;font-size:10.4px;font-weight:normal;">33.33</div>
<div class="ln" style="left:520.00px;width:82.60px;top:490px;font-size:10.4px;font-weight:normal;">(17.45, 54.19</div>
<div class="ln" style="left:602.60px;width:82.40px;top:477px;font-size:10.4px;font-weight:normal;">44.44</div>
<div class="ln" style="left:602.60px;width:82.40px;top:490px;font-size:10.4px;font-weight:normal;">(28.98, 61.06)</div>
</div>
</body></html>
